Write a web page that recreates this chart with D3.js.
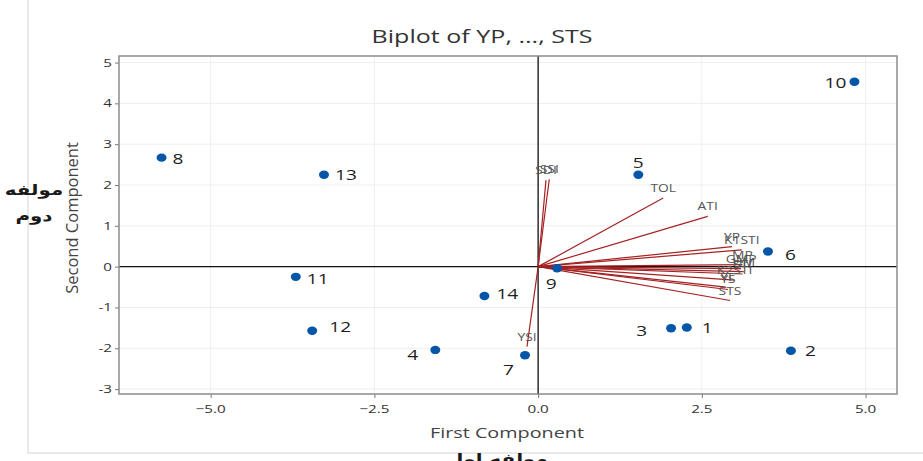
<!DOCTYPE html>
<html>
<meta charset="utf-8">
<head>
<title>Biplot of YP, ..., STS</title>
<style>
body { margin: 0; background: #fff; }
text { font-family: "Open Sans", "Noto Sans", sans-serif; }
.grid line { stroke: #efefef; stroke-width: 1px; }
.vec { stroke: #a52222; stroke-width: 1.2px; }
</style>
</head>
<body>
<script src="https://d3js.org/d3.v7.min.js"></script>
<script>

// observations (scores on first two components)
var obsNames = ["1","2","3","4","5","6","7","8","9","10","11","12","13","14"];
var obsPC1 = [2.27, 3.86, 2.03, -1.57, 1.53, 3.51, -0.20, -5.75, 0.29, 4.83, -3.70, -3.45, -3.27, -0.82];
var obsPC2 = [-1.49, -2.06, -1.51, -2.04, 2.25, 0.37, -2.17, 2.67, -0.04, 4.53, -0.25, -1.57, 2.25, -0.72];

// variables (loading vectors)
var varNames = ["SSI","SDI","TOL","ATI","YP","K1STI","MP","GMP","HM","STI","K2STI","YI","YS","STS","YSI"];
var varPC1 = [0.17, 0.12, 1.91, 2.59, 2.96, 3.11, 3.12, 3.10, 3.14, 3.12, 3.00, 2.87, 2.90, 2.93, -0.17];
var varPC2 = [2.14, 2.12, 1.68, 1.23, 0.49, 0.41, 0.05, -0.05, -0.12, -0.18, -0.33, -0.50, -0.56, -0.83, -1.96];

var xTicks = [-5, -2.5, 0, 2.5, 5];
var yTicks = [-3, -2, -1, 0, 1, 2, 3, 4, 5];

// label placement for observation numbers [dx, dy, anchor]
var obsLabelPos = {
  "1": [15, 6, "start"], "2": [14, 5, "start"], "3": [-24, 8, "end"], "4": [-17, 10, "end"],
  "5": [0, -7, "middle"], "6": [17, 8, "start"], "7": [-11, 20, "end"], "8": [11, 6, "start"],
  "9": [-6, 21, "middle"], "10": [-8, 6, "end"], "11": [11, 7, "start"], "12": [17, 1, "start"],
  "13": [11, 5, "start"], "14": [12, 3, "start"]
};

var width = 923, height = 461;
var plot = {left: 119, right: 897, top: 56, bottom: 394};
var stretch = 1.32;   // the source picture is wider than it is tall

var svg = d3.select("body").append("svg")
  .attr("width", width).attr("height", height);

// text that is widened sideways like the source
function wideText(g, tx, ty, str, size, anchor, fill) {
  return g.append("text")
    .attr("transform", "translate(" + tx + "," + ty + ") scale(" + stretch + ",1)")
    .attr("text-anchor", anchor || "middle")
    .attr("fill", fill || "#333")
    .style("font-size", size + "px")
    .text(str);
}

// outer graph region edges
svg.append("line").attr("x1", 28).attr("x2", 28).attr("y1", 0).attr("y2", 453)
  .attr("stroke", "#d4d4d4");
svg.append("line").attr("x1", 28).attr("x2", width).attr("y1", 453).attr("y2", 453)
  .attr("stroke", "#d4d4d4");

var x = d3.scaleLinear().domain([-6.40, 5.48]).range([plot.left, plot.right]);
var y = d3.scaleLinear().domain([-3.12, 5.16]).range([plot.bottom, plot.top]);

// gridlines
var grid = svg.append("g").attr("class", "grid");
grid.selectAll(".gx").data(xTicks).enter().append("line")
  .attr("x1", d => x(d)).attr("x2", d => x(d))
  .attr("y1", plot.top).attr("y2", plot.bottom);
grid.selectAll(".gy").data(yTicks).enter().append("line")
  .attr("y1", d => y(d)).attr("y2", d => y(d))
  .attr("x1", plot.left).attr("x2", plot.right);

// reference lines
svg.append("line").attr("x1", x(0)).attr("x2", x(0)).attr("y1", plot.top).attr("y2", plot.bottom)
  .attr("stroke", "#111").attr("stroke-width", 1.3);
svg.append("line").attr("y1", y(0)).attr("y2", y(0)).attr("x1", plot.left).attr("x2", plot.right)
  .attr("stroke", "#111").attr("stroke-width", 1.3);

// axes: ticks from d3, labels redrawn widened
var xAxis = svg.append("g")
  .attr("transform", "translate(0," + plot.bottom + ")")
  .call(d3.axisBottom(x).tickValues(xTicks).tickFormat(d3.format(".1f")).tickSize(4));
var yAxis = svg.append("g")
  .attr("transform", "translate(" + plot.left + ",0)")
  .call(d3.axisLeft(y).tickValues(yTicks).tickSize(4));
[xAxis, yAxis].forEach(function(a) {
  a.select(".domain").remove();
  a.selectAll("line").attr("stroke", "#777");
  a.selectAll("text").remove();
});
xTicks.forEach(function(t) {
  wideText(svg, x(t), plot.bottom + 19, d3.format(".1f")(t), 11.5, "middle", "#333");
});
yTicks.forEach(function(t) {
  wideText(svg, plot.left - 7, y(t) + 4, t, 11.5, "end", "#333");
});

// frame
svg.append("rect").attr("x", plot.left).attr("y", plot.top)
  .attr("width", plot.right - plot.left).attr("height", plot.bottom - plot.top)
  .attr("fill", "none").attr("stroke", "#8c8c8c").attr("stroke-width", 1.5);

// vectors
var vars = varNames.map((n, i) => ({name: n, a: varPC1[i], b: varPC2[i]}));
svg.selectAll(".vec").data(vars).enter().append("line")
  .attr("class", "vec")
  .attr("x1", x(0)).attr("y1", y(0))
  .attr("x2", d => x(d.a)).attr("y2", d => y(d.b));
var vlab = svg.append("g");
vars.forEach(function(d) {
  wideText(vlab, x(d.a), y(d.b) - 6, d.name, 10.5, "middle", "#555");
});

// observations
var obs = obsNames.map((n, i) => ({name: n, a: obsPC1[i], b: obsPC2[i]}));
svg.selectAll(".pt").data(obs).enter().append("ellipse")
  .attr("cx", d => x(d.a)).attr("cy", d => y(d.b))
  .attr("rx", 5).attr("ry", 4.2)
  .attr("fill", "#0556a8");
var olab = svg.append("g");
obs.forEach(function(d) {
  var p = obsLabelPos[d.name];
  wideText(olab, x(d.a) + p[0], y(d.b) + p[1], d.name, 14.5, p[2], "#1e1e1e");
});

// titles
wideText(svg, 482, 43, "Biplot of YP, ..., STS", 19, "middle", "#333");
wideText(svg, 507, 438, "First Component", 15, "middle", "#444");
svg.append("text").attr("transform", "translate(78,218) rotate(-90)")
  .attr("text-anchor", "middle").attr("fill", "#444").style("font-size", "16.5px")
  .text("Second Component");

// Persian labels
function faText(tx, ty, str) {
  wideText(svg, tx, ty, str, 15, "middle", "#1a1a1a")
    .style("font-weight", "bold")
    .style("font-family", "'DejaVu Sans', 'Noto Sans', sans-serif");
}
faText(34, 195, "مولفه");
faText(34, 221, "دوم");
faText(497, 464, "مولفه اول");

</script>
</body>
</html>
